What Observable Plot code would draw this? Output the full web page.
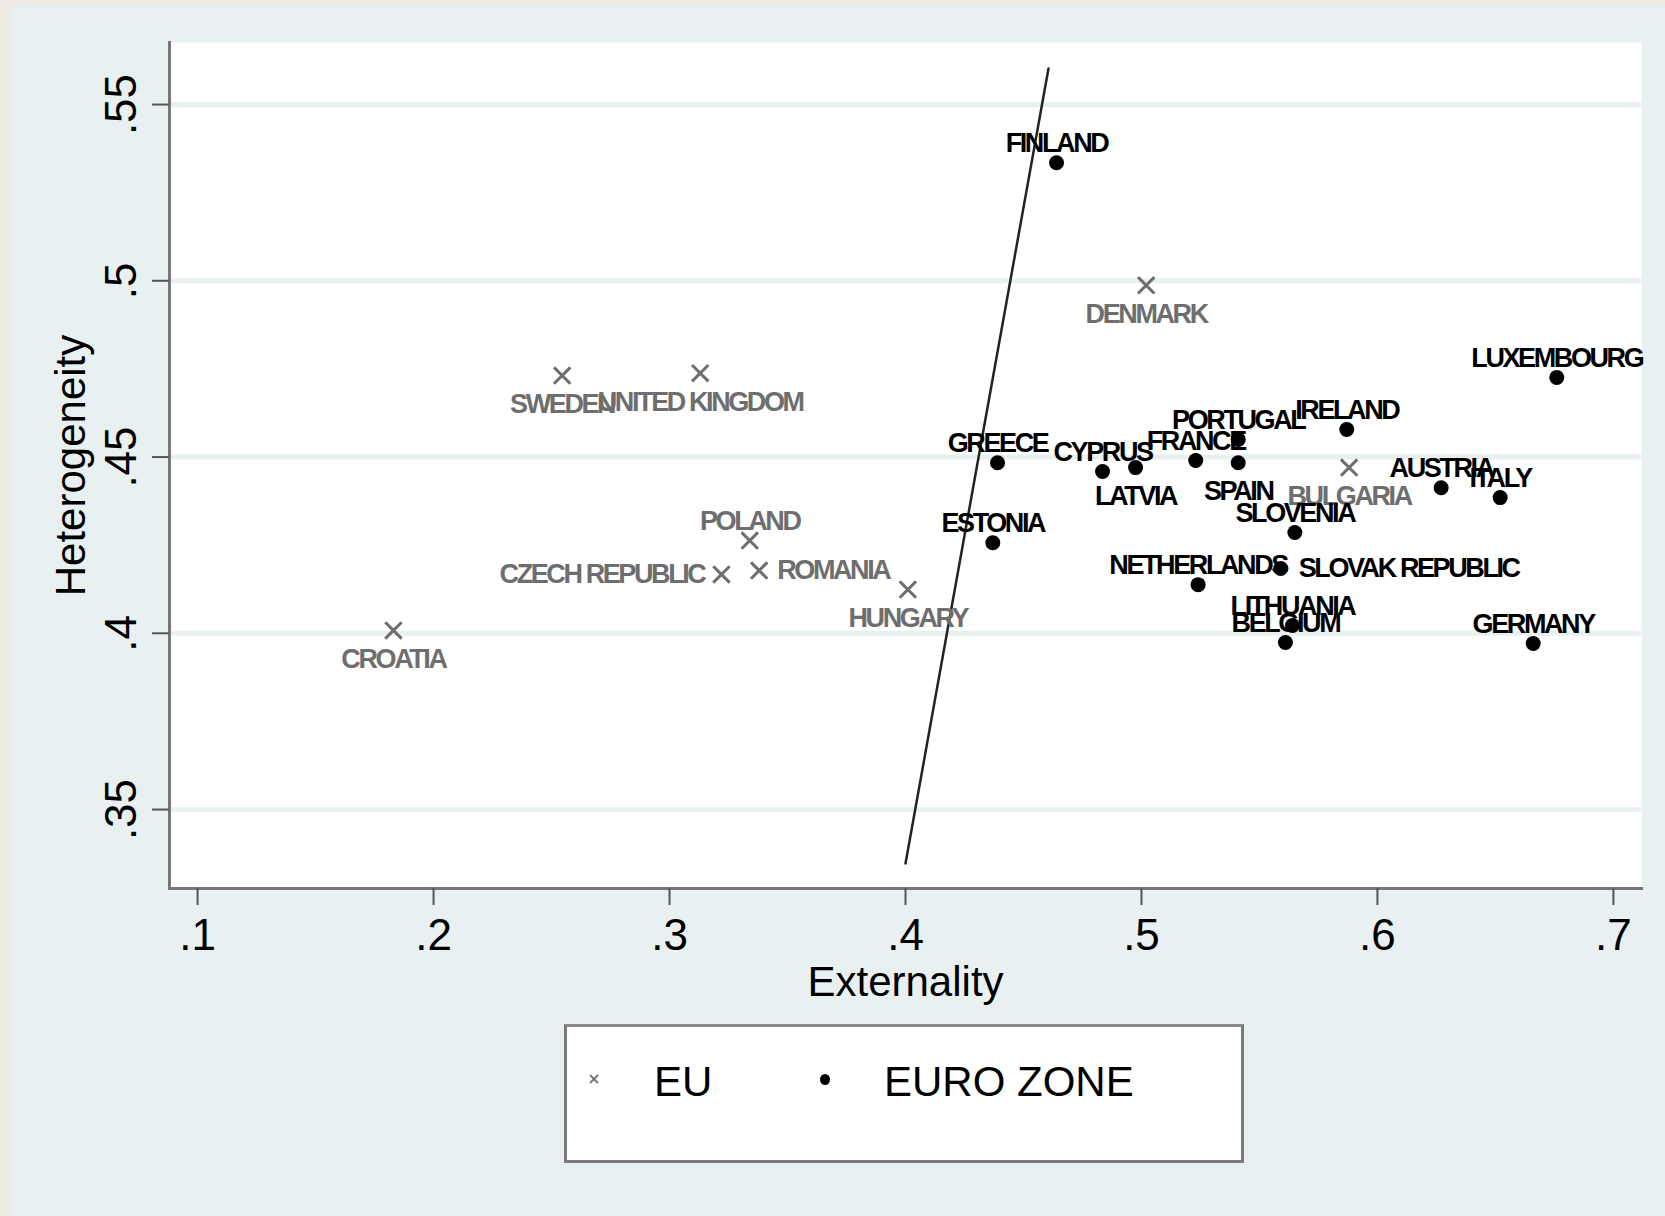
<!DOCTYPE html>
<html>
<head>
<meta charset="utf-8">
<script src="https://cdn.jsdelivr.net/npm/d3@7"></script>
<script src="https://cdn.jsdelivr.net/npm/@observablehq/plot@0.6"></script>
<style>
html, body { margin: 0; padding: 0; }
body { background: #efece6; width: 1665px; height: 1216px; overflow: hidden; position: relative;
  font-family: "Liberation Sans", Arial, Helvetica, sans-serif; }
#page { position: absolute; left: 12px; top: 6px; width: 1653px; height: 1210px; background: #e8f0f2; }
#chart { position: absolute; left: 0; top: 0; }
#chart svg { background: transparent; }
g[aria-label="text"] { letter-spacing: -2.4px; }
#legend { position: absolute; left: 564px; top: 1024px; width: 674px; height: 133px;
  border: 3px solid #7a7a7a; border-top-color: #8a8a8a; background: #fff; }
#legend .lab { position: absolute; font-size: 42px; line-height: 42px; color: #000; white-space: nowrap; }
#legend .mk { position: absolute; }
</style>
</head>
<body>
<div id="page"></div>
<div id="chart"></div>
<div id="legend">
  <svg class="mk" style="left:20px;top:45px" width="14" height="14" viewBox="0 0 14 14">
    <line x1="3" y1="3" x2="11" y2="11" stroke="#777" stroke-width="2"/>
    <line x1="11" y1="3" x2="3" y2="11" stroke="#777" stroke-width="2"/>
  </svg>
  <span class="lab" style="left:87px;top:34px">EU</span>
  <div class="mk" style="left:253px;top:47px;width:10px;height:11px;border-radius:50%;background:#000"></div>
  <span class="lab" style="left:317px;top:34px">EURO ZONE</span>
</div>
<script>
// ---- data ----
const countries = ["FINLAND","DENMARK","LUXEMBOURG","IRELAND","PORTUGAL","FRANCE","SPAIN","GREECE",
  "CYPRUS","LATVIA","ESTONIA","SLOVENIA","BULGARIA","AUSTRIA","ITALY","NETHERLANDS","SLOVAK REPUBLIC",
  "LITHUANIA","BELGIUM","GERMANY","SWEDEN","UNITED KINGDOM","POLAND","CZECH REPUBLIC","ROMANIA",
  "HUNGARY","CROATIA"];
const groups = ["EURO ZONE","EU","EURO ZONE","EURO ZONE","EURO ZONE","EURO ZONE","EURO ZONE","EURO ZONE",
  "EURO ZONE","EURO ZONE","EURO ZONE","EURO ZONE","EU","EURO ZONE","EURO ZONE","EURO ZONE","EURO ZONE",
  "EURO ZONE","EURO ZONE","EURO ZONE","EU","EU","EU","EU","EU","EU","EU"];
const externality = [0.464,0.502,0.676,0.587,0.541,0.523,0.541,0.439,
  0.4835,0.4975,0.437,0.565,0.588,0.627,0.652,0.524,0.559,
  0.564,0.561,0.666,0.2545,0.313,0.334,0.322,0.338,0.401,0.183];
const heterogeneity = [0.5335,0.4987,0.4726,0.4578,0.455,0.449,0.4484,0.4484,
  0.4459,0.447,0.4257,0.4286,0.447,0.4413,0.4385,0.4138,0.4184,
  0.4022,0.3974,0.3971,0.4731,0.4738,0.4263,0.4167,0.4178,0.4124,0.4008];
// marker-label clock position (12 above, 6 below, 3 right, 9 left)
const labelClock = [12,6,12,12,12,12,6,12,12,6,12,12,6,12,12,12,3,12,12,12,6,6,12,9,3,6,6];
// fitted line end points
const fitX = [0.400, 0.4606];
const fitY = [0.3347, 0.5602];
const xTicks = [0.1,0.2,0.3,0.4,0.5,0.6,0.7];
const yTicks = [0.35,0.4,0.45,0.5,0.55];
const xDomain = [0.0881, 0.7119];
const yDomain = [0.3276, 0.5676];

// ---- build ----
const rows = countries.map((c, i) => ({country: c, group: groups[i], x: externality[i], y: heterogeneity[i], clock: labelClock[i]}));
const fit = fitX.map((x, i) => ({x, y: fitY[i]}));
const fmt = d => String(d).replace(/^0\./, ".");
const GRAY = "#6e6e6e";
const place = {
  12: {dy: -19},
  6: {dy: 29},
  3: {dx: 18, textAnchor: "start"},
  9: {dx: -17, textAnchor: "end"}
};
const labelMarks = [];
for (const g of ["EU", "EURO ZONE"]) {
  for (const k of [12, 6, 3, 9]) {
    const sub = rows.filter(d => d.group === g && d.clock === k);
    if (!sub.length) continue;
    labelMarks.push(Plot.text(sub, {x: "x", y: "y", text: "country", fontSize: 27, fontWeight: "bold",
      fill: g === "EU" ? GRAY : "#000", ...place[k]}));
  }
}

const plot = Plot.plot({
  width: 1665,
  height: 1022,
  marginLeft: 169,
  marginRight: 24,
  marginTop: 42,
  marginBottom: 134,
  style: {background: "transparent", fontFamily: '"Liberation Sans", Arial, Helvetica, sans-serif', overflow: "visible"},
  x: {domain: xDomain},
  y: {domain: yDomain},
  marks: [
    Plot.frame({fill: "white", stroke: "none"}),
    Plot.gridY(yTicks, {stroke: "#e8f0f2", strokeOpacity: 1, strokeWidth: 5}),
    Plot.frame({anchor: "left", stroke: "#777", strokeWidth: 3}),
    Plot.frame({anchor: "bottom", stroke: "#777", strokeWidth: 3}),
    Plot.axisX(xTicks, {tickSize: 17, tickPadding: 13, tickFormat: fmt, fontSize: 44, stroke: "#555", strokeWidth: 2, fill: "#000", label: null}),
    Plot.axisX([], {label: "Externality", labelAnchor: "center", labelOffset: 107, labelArrow: "none", fontSize: 42, fill: "#000", tickSize: 0}),
    Plot.axisY(yTicks, {tickRotate: -90, tickSize: 17, tickPadding: 17, tickFormat: fmt, fontSize: 44, stroke: "#555", strokeWidth: 2, fill: "#000", label: null}),
    Plot.axisY([], {label: "Heterogeneity", labelAnchor: "center", labelOffset: 114, labelArrow: "none", fontSize: 42, fill: "#000", tickSize: 0}),
    Plot.line(fit, {x: "x", y: "y", stroke: "#222", strokeWidth: 2.5}),
    Plot.dot(rows.filter(d => d.group === "EU"), {x: "x", y: "y", symbol: "times", r: 7.5, stroke: GRAY, strokeWidth: 3}),
    Plot.dot(rows.filter(d => d.group === "EURO ZONE"), {x: "x", y: "y", r: 7.5, fill: "#000", stroke: "none"}),
    ...labelMarks
  ]
});
document.getElementById("chart").appendChild(plot);
</script>
</body>
</html>
